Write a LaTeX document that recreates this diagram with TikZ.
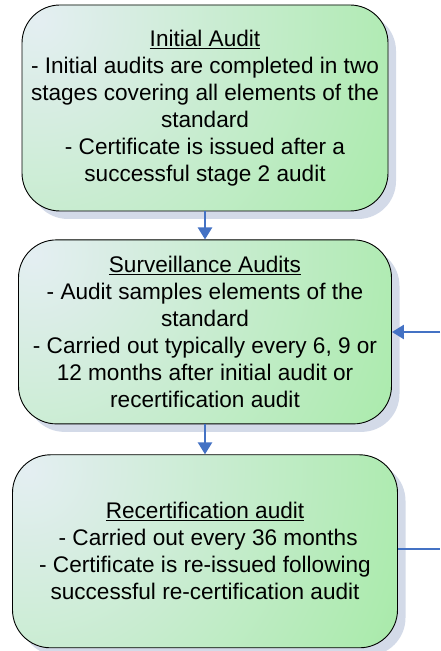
\documentclass[tikz,border=0pt]{standalone}
\usepackage{fontspec}
\setmainfont{Liberation Sans}
\usetikzlibrary{
		positioning,
		arrows.meta,
		shadows
	}
\definecolor{boxlight}{HTML}{E4EEF2}
\definecolor{boxgreen}{HTML}{A4EAA4}
\definecolor{shadowblue}{HTML}{D3DAE8}
\definecolor{linkblue}{HTML}{4472C4}
\tikzset{
		>={Triangle[width=14pt,length=12pt]},
		auditbox/.style={draw=black, line width=0.9pt, rounded corners=38pt,
			fill=boxgreen,
			path picture={\shade[inner color=boxlight, outer color=boxgreen]
				([shift={(15pt,-15pt)}]path picture bounding box.north west) circle (440pt);},
			align=center, inner xsep=4pt,
			drop shadow={shadow xshift=8pt, shadow yshift=-8pt, fill=shadowblue, opacity=1},
			font=\fontsize{22.6}{27}\selectfont},
		link/.style={draw=linkblue, line width=2.5pt, ->}
	}

\begin{document}
\begin{tikzpicture}[x=1pt, y=1pt]
		\useasboundingbox (0, 0) rectangle (440, 651);
		\node[auditbox, minimum width=366pt, minimum height=206pt] (initial) at (205, 543)
			{\underline{Initial Audit}\\
			 - Initial audits are completed in two\\
			 stages covering all elements of the\\
			 standard\\
			 - Certificate is issued after a\\
			 successful stage 2 audit};
		\node[auditbox, minimum width=373pt, minimum height=184pt, below=28pt of initial] (surveillance)
			{\underline{Surveillance Audits}\\
			 - Audit samples elements of the\\
			 standard\\
			 - Carried out typically every 6, 9 or\\
			 12 months after initial audit or\\
			 recertification audit};
		\node[auditbox, minimum width=385pt, minimum height=193pt, below=30pt of surveillance] (recert)
			{\underline{Recertification audit}\\
			 \ - Carried out every 36 months\\
			 - Certificate is re-issued following\\
			 successful re-certification audit};
		\coordinate (loopin) at (440, 319);
		\coordinate (loopout) at (440, 102);
		\draw[link] (initial) -- (surveillance);
		\draw[link] (surveillance) -- (recert);
		\draw[link] (loopin) -- (surveillance.east |- loopin);
		\draw[link, -] (recert.east |- loopout) -- (loopout);
	\end{tikzpicture}
\end{document}
